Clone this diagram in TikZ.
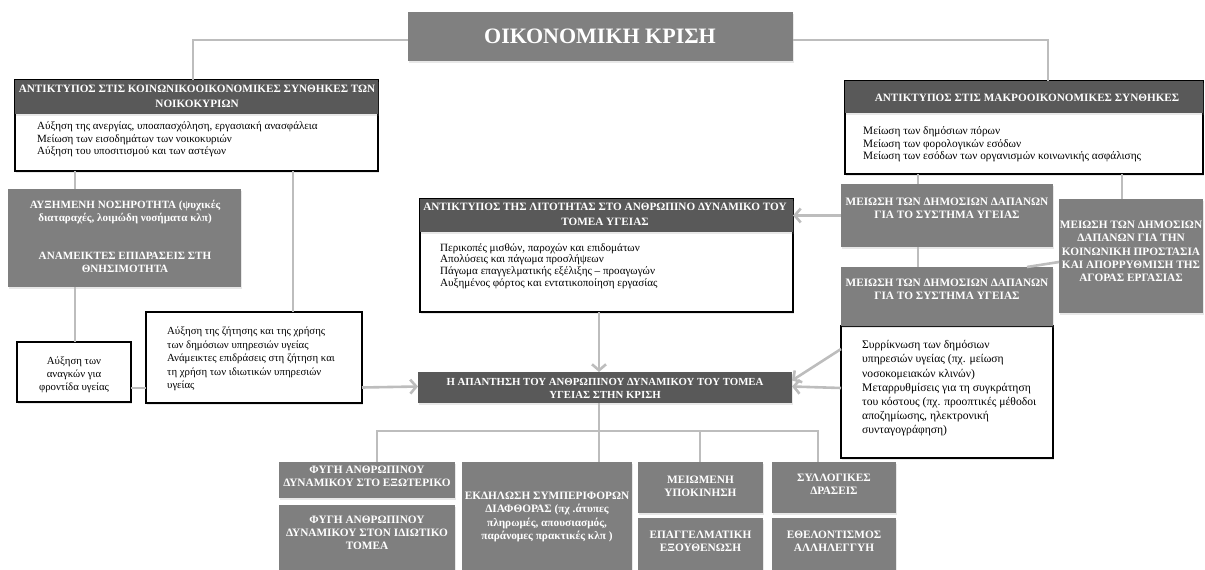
\documentclass[tikz,border=0pt]{standalone}
\usepackage{fontspec}
\setmainfont{Liberation Serif}
\usetikzlibrary{arrows.meta,shadows}
\definecolor{headdark}{HTML}{595959}
\definecolor{boxgray}{HTML}{7F7F7F}
\definecolor{linkgray}{HTML}{BDBDBD}
\tikzset{
  panel/.style={rectangle, inner sep=0pt, outer sep=0pt, anchor=north west,
    drop shadow={shadow xshift=1pt, shadow yshift=-2pt, opacity=0.18}},
  darkpanel/.style={panel, fill=headdark},
  graypanel/.style={panel, fill=boxgray},
  whitepanel/.style={panel, fill=white, draw=black, line width=1.3pt},
  captext/.style={text=white, font=\bfseries\fontsize{11.3}{13.3}\selectfont, align=center, inner sep=0pt},
  headtext/.style={captext, font=\bfseries\fontsize{11.2}{14.5}\selectfont},
  plaintext/.style={font=\fontsize{11}{12.4}\selectfont, align=left, inner sep=0pt, anchor=west},
  link/.style={draw=linkgray, line width=2.6pt},
  arrowlink/.style={link, -{Straight Barb[length=6pt,width=14pt]}},
}
\begin{document}
\begin{tikzpicture}[x=1pt,y=-1pt]
\useasboundingbox (0,0) rectangle (1205,570);

% ---------- top ----------
\node[graypanel, fill=gray, minimum width=385pt, minimum height=49pt] (title) at (408,12) {};
\node[text=white, font=\bfseries\fontsize{22}{26}\selectfont, inner sep=0pt] (titletext) at (600,36) {ΟΙΚΟΝΟΜΙΚΗ ΚΡΙΣΗ};

% household impact (left)
\node[whitepanel, minimum width=363pt, minimum height=91pt] (lbody) at (15,80) {};
\node[darkpanel, drop shadow={opacity=0}, minimum width=363pt, minimum height=34pt] (lhead) at (15,80) {};
\node[headtext] (lheadtext) at (197,96.5) {ΑΝΤΙΚΤΥΠΟΣ ΣΤΙΣ ΚΟΙΝΩΝΙΚΟΟΙΚΟΝΟΜΙΚΕΣ ΣΥΝΘΗΚΕΣ ΤΩΝ\\ΝΟΙΚΟΚΥΡΙΩΝ};
\node[plaintext] (lbodytext) at (37,139.5) {Αύξηση της ανεργίας, υποαπασχόληση, εργασιακή ανασφάλεια\\Μείωση των εισοδημάτων των νοικοκυριών\\Αύξηση του υποσιτισμού και των αστέγων};

% macroeconomic impact (right)
\node[whitepanel, minimum width=358pt, minimum height=93pt] (rbody) at (845,81) {};
\node[darkpanel, drop shadow={opacity=0}, minimum width=358pt, minimum height=32pt] (rhead) at (845,81) {};
\node[headtext] (rheadtext) at (1027,98) {ΑΝΤΙΚΤΥΠΟΣ ΣΤΙΣ ΜΑΚΡΟΟΙΚΟΝΟΜΙΚΕΣ ΣΥΝΘΗΚΕΣ};
\node[plaintext, font=\fontsize{11.3}{12.4}\selectfont] (rbodytext) at (863,144.5) {Μείωση των δημόσιων πόρων\\Μείωση των φορολογικών εσόδων\\Μείωση των εσόδων των οργανισμών κοινωνικής ασφάλισης};

% ---------- left column ----------
\node[graypanel, minimum width=233pt, minimum height=98pt] (nos) at (8,189) {};
\node[captext, font=\bfseries\fontsize{11.1}{12.6}\selectfont] (nostext1) at (125,212) {ΑΥΞΗΜΕΝΗ ΝΟΣΗΡΟΤΗΤΑ (ψυχικές\\διαταραχές, λοιμώδη νοσήματα κλπ)};
\node[captext, font=\bfseries\fontsize{11.1}{12.6}\selectfont] (nostext2) at (125,262.5) {ΑΝΑΜΕΙΚΤΕΣ ΕΠΙΔΡΑΣΕΙΣ ΣΤΗ\\ΘΝΗΣΙΜΟΤΗΤΑ};

\node[whitepanel, minimum width=114pt, minimum height=60pt] (needs) at (17,342) {};
\node[plaintext, align=center, anchor=center, font=\fontsize{10.8}{13.2}\selectfont] (needstext) at (74,375) {Αύξηση των\\αναγκών για\\φροντίδα υγείας};

\node[whitepanel, minimum width=216pt, minimum height=91pt] (demand) at (146,312) {};
\node[plaintext, font=\fontsize{10.8}{13.5}\selectfont] (demandtext) at (167,359) {Αύξηση της ζήτησης και της χρήσης\\των δημόσιων υπηρεσιών υγείας\\Ανάμεικτες επιδράσεις στη ζήτηση και\\τη χρήση των ιδιωτικών υπηρεσιών\\υγείας};

% ---------- centre ----------
\node[whitepanel, minimum width=373pt, minimum height=113pt] (mbody) at (420,199) {};
\node[darkpanel, drop shadow={opacity=0}, minimum width=373pt, minimum height=33pt] (mhead) at (420,199) {};
\node[headtext] (mheadtext) at (605,214.5) {ΑΝΤΙΚΤΥΠΟΣ ΤΗΣ ΛΙΤΟΤΗΤΑΣ ΣΤΟ ΑΝΘΡΩΠΙΝΟ ΔΥΝΑΜΙΚΟ ΤΟΥ\\ΤΟΜΕΑ ΥΓΕΙΑΣ};
\node[plaintext, font=\fontsize{11.1}{11.8}\selectfont] (mbodytext) at (440,266) {Περικοπές μισθών, παροχών και επιδομάτων\\Απολύσεις και πάγωμα προσλήψεων\\Πάγωμα επαγγελματικής εξέλιξης – προαγωγών\\Αυξημένος φόρτος και εντατικοποίηση εργασίας};

\node[darkpanel, minimum width=374pt, minimum height=31pt] (resp) at (418,372) {};
\node[headtext, font=\bfseries\fontsize{10.8}{13}\selectfont] (resptext) at (605,388.5) {Η ΑΠΑΝΤΗΣΗ ΤΟΥ ΑΝΘΡΩΠΙΝΟΥ ΔΥΝΑΜΙΚΟΥ ΤΟΥ ΤΟΜΕΑ\\ΥΓΕΙΑΣ ΣΤΗΝ ΚΡΙΣΗ};

% ---------- right column ----------
\node[graypanel, minimum width=212pt, minimum height=63pt] (cut1) at (841,184) {};
\node[captext] (cut1text) at (947,208.5) {ΜΕΙΩΣΗ ΤΩΝ ΔΗΜΟΣΙΩΝ ΔΑΠΑΝΩΝ\\ΓΙΑ ΤΟ ΣΥΣΤΗΜΑ ΥΓΕΙΑΣ};

\node[graypanel, minimum width=144pt, minimum height=114pt] (social) at (1059,199) {};
\node[captext] (socialtext) at (1131,251.5) {ΜΕΙΩΣΗ ΤΩΝ ΔΗΜΟΣΙΩΝ\\ΔΑΠΑΝΩΝ ΓΙΑ ΤΗΝ\\ΚΟΙΝΩΝΙΚΗ ΠΡΟΣΤΑΣΙΑ\\ΚΑΙ ΑΠΟΡΡΥΘΜΙΣΗ ΤΗΣ\\ΑΓΟΡΑΣ ΕΡΓΑΣΙΑΣ};

\node[whitepanel, minimum width=212pt, minimum height=132pt] (cut2body) at (841,326) {};
\node[graypanel, minimum width=212pt, minimum height=59pt] (cut2) at (841,267) {};
\node[captext] (cut2text) at (947,289.5) {ΜΕΙΩΣΗ ΤΩΝ ΔΗΜΟΣΙΩΝ ΔΑΠΑΝΩΝ\\ΓΙΑ ΤΟ ΣΥΣΤΗΜΑ ΥΓΕΙΑΣ};
\node[plaintext, font=\fontsize{11.6}{14.2}\selectfont] (cut2bodytext) at (862,388.5) {Συρρίκνωση των δημόσιων\\υπηρεσιών υγείας (πχ. μείωση\\νοσοκομειακών κλινών)\\Μεταρρυθμίσεις για τη συγκράτηση\\του κόστους (πχ. προοπτικές μέθοδοι\\αποζημίωσης, ηλεκτρονική\\συνταγογράφηση)};

% ---------- bottom row ----------
\node[graypanel, minimum width=176pt, minimum height=36pt] (abroad) at (279,462) {};
\node[captext] (abroadtext) at (367,476.5) {ΦΥΓΗ ΑΝΘΡΩΠΙΝΟΥ\\ΔΥΝΑΜΙΚΟΥ ΣΤΟ ΕΞΩΤΕΡΙΚΟ};
\node[graypanel, minimum width=176pt, minimum height=65pt] (private) at (279,505) {};
\node[captext] (privatetext) at (367,533) {ΦΥΓΗ ΑΝΘΡΩΠΙΝΟΥ\\ΔΥΝΑΜΙΚΟΥ ΣΤΟΝ ΙΔΙΩΤΙΚΟ\\ΤΟΜΕΑ};

\node[graypanel, minimum width=170pt, minimum height=108pt] (corrupt) at (462,462) {};
\node[captext] (corrupttext) at (547,517) {ΕΚΔΗΛΩΣΗ ΣΥΜΠΕΡΙΦΟΡΩΝ\\ΔΙΑΦΘΟΡΑΣ (πχ .άτυπες\\πληρωμές, απουσιασμός,\\παράνομες πρακτικές κλπ )};

\node[graypanel, minimum width=125pt, minimum height=51pt] (motiv) at (638,462) {};
\node[captext] (motivtext) at (700.5,486) {ΜΕΙΩΜΕΝΗ\\ΥΠΟΚΙΝΗΣΗ};
\node[graypanel, minimum width=125pt, minimum height=52pt] (burnout) at (638,518) {};
\node[captext] (burnouttext) at (700.5,541.5) {ΕΠΑΓΓΕΛΜΑΤΙΚΗ\\ΕΞΟΥΘΕΝΩΣΗ};

\node[graypanel, minimum width=124pt, minimum height=51pt] (collect) at (772,462) {};
\node[captext] (collecttext) at (834,484) {ΣΥΛΛΟΓΙΚΕΣ\\ΔΡΑΣΕΙΣ};
\node[graypanel, minimum width=124pt, minimum height=52pt] (volunt) at (772,518) {};
\node[captext] (volunttext) at (834,541.5) {ΕΘΕΛΟΝΤΙΣΜΟΣ\\ΑΛΛΗΛΕΓΓΥΗ};

% ---------- connectors ----------
\coordinate (hub) at (599,431);
\draw[link] ([yshift=-3.5pt]title.west) -| ([xshift=-3.5pt]lhead.north);
\draw[link] ([yshift=-3.5pt]title.east) -| ([xshift=24pt]rhead.north);

\draw[link] ([xshift=-121.5pt]lbody.south) -- ([xshift=-49.5pt]nos.north);
\draw[link] ([xshift=-49.5pt]nos.south) -- ([xshift=1pt]needs.north);
\draw[link] ([xshift=96.5pt]lbody.south) -- ([xshift=39pt]demand.north);
\draw[link] ([yshift=-16pt]needs.east) -- ([yshift=-30.5pt]demand.west);
\draw[arrowlink] ([yshift=-30pt]demand.east) -- ([yshift=1pt]resp.west);

\draw[arrowlink] ([xshift=-7.5pt]mbody.south) -- ([xshift=-6pt]resp.north);

\draw[link] ([xshift=-106pt]rbody.south) -- ([xshift=-29pt]cut1.north);
\draw[link] ([xshift=98pt]rbody.south) -- ([xshift=-9pt]social.north);
\draw[arrowlink] (cut1.west) -- (mhead.east);
\draw[link] ([xshift=-29pt]cut1.south) -- ([xshift=-29pt]cut2.north);
\draw[link] ([yshift=-6pt]social.west) -- ([xshift=80pt]cut2.north);
\draw[arrowlink] ([yshift=43pt]cut2body.west) -- ([yshift=7pt]resp.east);
\draw[arrowlink] ([yshift=4pt]cut2body.west) -- ([yshift=1pt]resp.east);

\draw[link] ([xshift=-6pt]resp.south) -- ([xshift=52pt]corrupt.north);
\draw[link] ([xshift=10pt]abroad.north) |- (hub) -| ([xshift=-16pt]collect.north);
\draw[link] (hub) -| ([xshift=-0.5pt]motiv.north);
\end{tikzpicture}
\end{document}
